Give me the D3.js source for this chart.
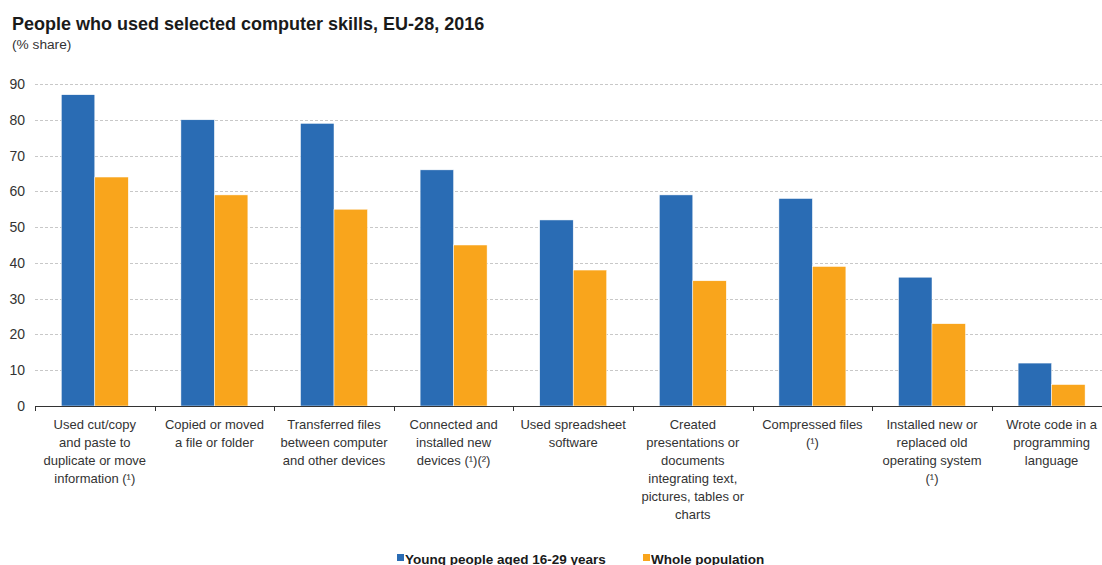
<!DOCTYPE html>
<html>
<head>
<meta charset="utf-8">
<script src="https://cdn.jsdelivr.net/npm/d3@7"></script>
<style>
  html, body { margin: 0; padding: 0; background: #fff; }
  svg { display: block; font-family: "Liberation Sans", Arial, sans-serif; }
</style>
</head>
<body>
<svg id="chart" width="1102" height="565"></svg>
<script>
// Skill categories, each label split into its printed lines
const categories = [
  ["Used cut/copy", "and paste to", "duplicate or move", "information (\u00b9)"],
  ["Copied or moved", "a file or folder"],
  ["Transferred files", "between computer", "and other devices"],
  ["Connected and", "installed new", "devices (\u00b9)(\u00b2)"],
  ["Used spreadsheet", "software"],
  ["Created", "presentations or", "documents", "integrating text,", "pictures, tables or", "charts"],
  ["Compressed files", "(\u00b9)"],
  ["Installed new or", "replaced old", "operating system", "(\u00b9)"],
  ["Wrote code in a", "programming", "language"]
];
const seriesNames = ["Young people aged 16-29 years", "Whole population"];
const youngValues = [87, 80, 79, 66, 52, 59, 58, 36, 12];
const wholeValues = [64, 59, 55, 45, 38, 35, 39, 23, 6];
const yTicks = [0, 10, 20, 30, 40, 50, 60, 70, 80, 90];
const colors = ["#2a6cb4", "#f9a51c"];

const svg = d3.select("#chart");
const W = 1102;

const ids = categories.map((_, i) => i);
const x0 = d3.scaleBand().domain(ids).range([35, 35 + 9 * 119.6]).paddingInner(0).paddingOuter(0);
const bw = x0.bandwidth();
const x1 = d3.scaleBand().domain([0, 1]).range([bw * 0.22, bw * 0.78]).padding(0);
const y = d3.scaleLinear().domain([0, 90]).range([406, 84]);

// Title
svg.append("text").attr("x", 12).attr("y", 29.5)
  .attr("font-size", 18).attr("font-weight", "bold").attr("fill", "#1a1a1a")
  .text("People who used selected computer skills, EU-28, 2016");
svg.append("text").attr("x", 12).attr("y", 49)
  .attr("font-size", 13.7).attr("fill", "#333")
  .text("(% share)");

// Horizontal gridlines
svg.append("g").selectAll("line").data(yTicks.filter(d => d > 0)).join("line")
  .attr("x1", 35).attr("x2", W)
  .attr("y1", d => Math.round(y(d)) + 0.5).attr("y2", d => Math.round(y(d)) + 0.5)
  .attr("stroke", "#c8c8c8").attr("stroke-dasharray", "3,2");

// Y tick labels
svg.append("g").selectAll("text").data(yTicks).join("text")
  .attr("x", 25).attr("y", d => y(d) + 5)
  .attr("text-anchor", "end").attr("font-size", 14).attr("fill", "#333")
  .text(d => d);

// Bars
const rows = ids.map(i => [youngValues[i], wholeValues[i]]);
const groups = svg.append("g").selectAll("g").data(rows).join("g")
  .attr("transform", (d, i) => `translate(${x0(i)},0)`);
groups.selectAll("rect").data(d => d).join("rect")
  .attr("x", (d, j) => x1(j))
  .attr("width", x1.bandwidth())
  .attr("y", d => y(d))
  .attr("height", d => y(0) - y(d))
  .attr("fill", (d, j) => colors[j])
  .attr("stroke", "#fff").attr("stroke-width", 0.5);

// Bottom axis with ticks at band boundaries
const axisG = svg.append("g");
axisG.append("line").attr("x1", 35).attr("x2", W)
  .attr("y1", 406.5).attr("y2", 406.5).attr("stroke", "#333").attr("stroke-width", 1);
axisG.selectAll("line.tick").data(ids).join("line").attr("class", "tick")
  .attr("x1", d => Math.round(x0(d)) + 0.5).attr("x2", d => Math.round(x0(d)) + 0.5)
  .attr("y1", 406).attr("y2", 411).attr("stroke", "#333");

// Category labels
const lab = svg.append("g").selectAll("text").data(categories).join("text")
  .attr("text-anchor", "middle").attr("font-size", 13).attr("fill", "#333")
  .attr("transform", (d, i) => `translate(${x0(i) + bw / 2},428.5)`);
lab.selectAll("tspan").data(d => d).join("tspan")
  .attr("x", 0).attr("y", (d, k) => k * 18)
  .text(d => d);

// Legend
const legendX = [397, 643];
const leg = svg.append("g").selectAll("g").data(seriesNames).join("g")
  .attr("transform", (d, i) => `translate(${legendX[i]},0)`);
leg.append("rect").attr("x", 0).attr("y", 554).attr("width", 7).attr("height", 7)
  .attr("fill", (d, i) => colors[i]);
leg.append("text").attr("x", 8).attr("y", 563.5)
  .attr("font-size", 13.5).attr("font-weight", "bold").attr("fill", "#1a1a1a")
  .text(d => d);
</script>
</body>
</html>
